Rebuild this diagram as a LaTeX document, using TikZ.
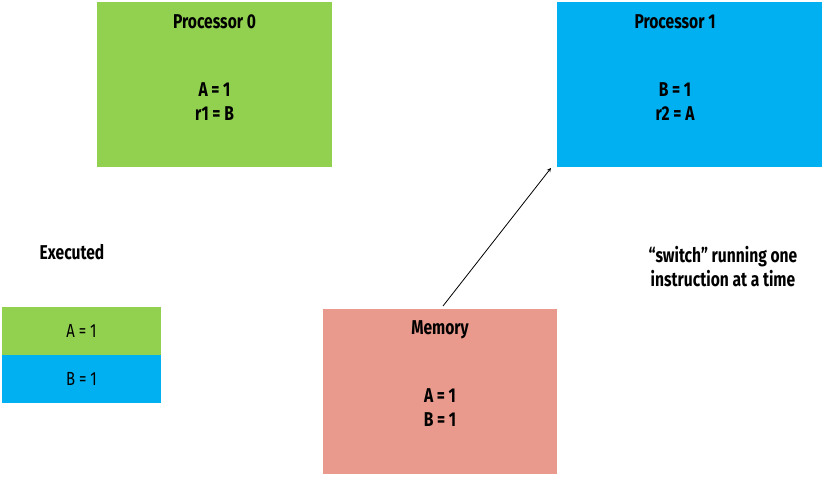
\documentclass[tikz,border=0pt]{standalone}
\usepackage{fontspec}
\setmainfont{Fira Sans}[FakeStretch=0.78]
\usetikzlibrary{positioning}
\definecolor{pzero}{HTML}{92D050}
\definecolor{pone}{HTML}{00B0F0}
\definecolor{memc}{HTML}{E99A8C}
\begin{document}
\begin{tikzpicture}[x=1pt, y=-1pt,
		box/.style={inner sep=0pt, anchor=north west},
		txt/.style={font=\fontsize{20}{24}\selectfont\bfseries, align=center},
		row/.style={font=\fontsize{19}{22}\selectfont}
		]
		\useasboundingbox (0,0) rectangle (827,478);
		
		%processors
		\fill[pzero] (97,2) rectangle (332,167);
		\fill[pone] (557,2) rectangle (822,167);
		\fill[memc] (323,309) rectangle (557,474);
		\node[txt] (p0) at (214.5,22) {Processor 0};
		\node[txt] (p0code) at (214.5,102) {A = 1\\r1 = B};
		\node[txt] (p1) at (675,22) {Processor 1};
		\node[txt] (p1code) at (675,102) {B = 1\\r2 = A};
		\coordinate (p1in) at (551,168);
		
		%memory
		\node[txt] (mem) at (440,330) {Memory};
		\node[txt] (memcode) at (440,408) {A = 1\\B = 1};
		\coordinate (memout) at (443,306);
		\draw[->, thick, >=stealth] (memout) -- (p1in);
		
		%executed
		\node[txt] (exec) at (72,252) {Executed};
		\fill[pzero] (2,307) rectangle (161,355);
		\fill[pone] (2,355) rectangle (161,403);
		\node[row] (r0) at (81.5,331) {A = 1};
		\node[row] (r1) at (81.5,379) {B = 1};
		
		\node[txt] (switch) at (723,267) {“switch” running one\\instruction at a time};
	\end{tikzpicture}
\end{document}
